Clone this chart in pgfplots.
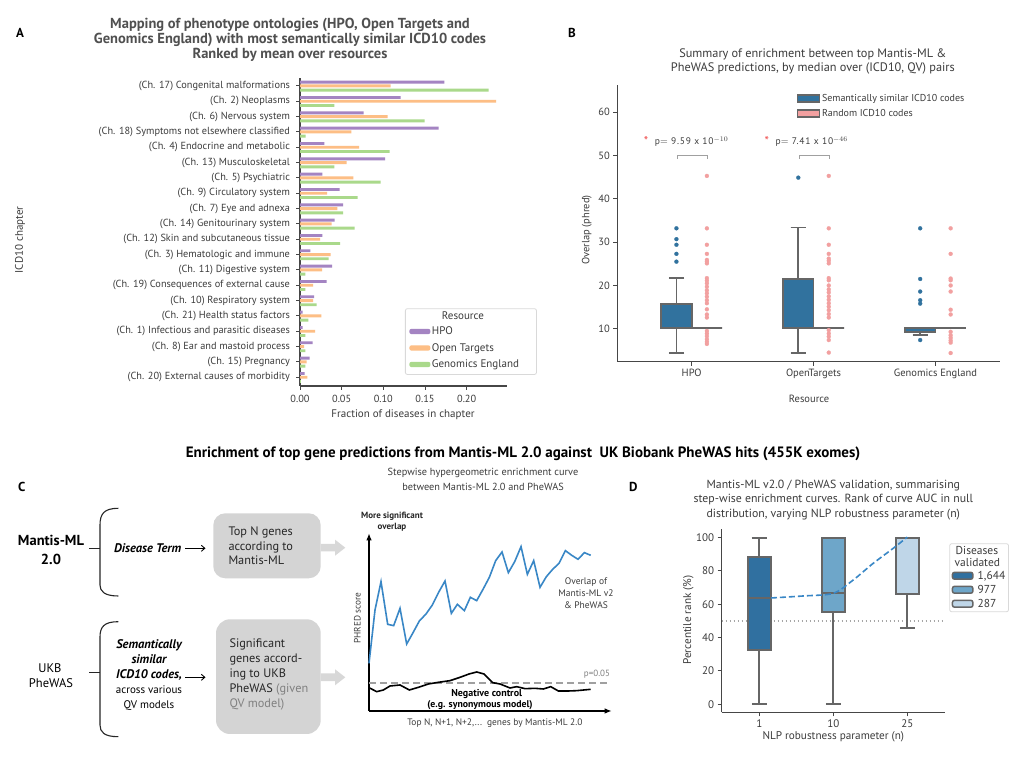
\documentclass[border=0pt]{standalone}
\usepackage{pgfplots}
\pgfplotsset{compat=1.18}
\usepgfplotslibrary{statistics}
\usetikzlibrary{arrows.meta}
\usepackage{fontspec}
\setmainfont{PT Sans}
\newcommand\fs[2]{\fontsize{#1bp}{#2bp}\selectfont}
\definecolor{tgray}{RGB}{60,60,60}
\definecolor{titlegray}{RGB}{80,80,80}
\definecolor{axgray}{RGB}{70,70,70}
\definecolor{cpurple}{RGB}{164,132,194}
\definecolor{corange}{RGB}{253,190,133}
\definecolor{cgreen}{RGB}{170,217,139}
\definecolor{bblue}{RGB}{49,114,158}
\definecolor{bpink}{RGB}{242,160,160}
\definecolor{boxedge}{RGB}{102,102,102}
\definecolor{dA}{RGB}{48,112,160}
\definecolor{dB}{RGB}{110,166,201}
\definecolor{dC}{RGB}{191,214,232}
\definecolor{lblue}{RGB}{57,135,198}
\definecolor{cbox}{RGB}{212,212,212}
\definecolor{carrow}{RGB}{216,216,216}
\definecolor{brgray}{RGB}{160,160,160}
\definecolor{pred}{RGB}{240,80,80}
\pgfplotsset{
  myaxis/.style={scale only axis, anchor=south west, axis lines=left,
    axis line style={-, draw=axgray, line width=1.1bp},
    tick align=outside, major tick length=4bp,
    tick style={draw=axgray, line width=1bp},
    /pgf/number format/assume math mode=true, clip=false},
  bbox/.style={forget plot, draw=boxedge, line width=1.7bp, mark=*, mark size=2bp},
}
\begin{document}
\begin{tikzpicture}[x=1bp,y=1bp]
\fill[white] (0,0) rectangle (1024,767);
\useasboundingbox (0,0) rectangle (1024,767);

% ---------------- Panel A ----------------
\begin{axis}[myaxis, at={(300bp,381bp)}, width=207bp, height=307.7bp,
  xmin=0, xmax=0.2484, ymin=-0.57, ymax=19.5,
  xtick={0,0.05,0.1,0.15,0.2}, scaled x ticks=false,
  xticklabel style={/pgf/number format/fixed, /pgf/number format/fixed zerofill, /pgf/number format/precision=2, yshift=-2bp},
  yticklabel style={xshift=-2.5bp},
  ytick={0,...,19},
  yticklabels={(Ch. 20) External causes of morbidity, (Ch. 15) Pregnancy, (Ch. 8) Ear and mastoid process, (Ch. 1) Infectious and parasitic diseases, (Ch. 21) Health status factors, (Ch. 10) Respiratory system, (Ch. 19) Consequences of external cause, (Ch. 11) Digestive system, (Ch. 3) Hematologic and immune, (Ch. 12) Skin and subcutaneous tissue, (Ch. 14) Genitourinary system, (Ch. 7) Eye and adnexa, (Ch. 9) Circulatory system, (Ch. 5) Psychiatric, (Ch. 13) Musculoskeletal, (Ch. 4) Endocrine and metabolic, (Ch. 18) Symptoms not elsewhere classified, (Ch. 6) Nervous system, (Ch. 2) Neoplasms, (Ch. 17) Congenital malformations},
  ticklabel style={font=\fs{10.3}{12}, text=tgray},
  xlabel={Fraction of diseases in chapter}, ylabel={ICD10 chapter},
  xlabel style={at={(axis description cs:0.4976,-0.0942)}, anchor=center, font=\fs{11}{12}, text=tgray},
  ylabel style={at={(axis description cs:-1.3527,0.4745)}, anchor=center, font=\fs{11}{12}, text=tgray},
  legend image code/.code={\path[draw=none, fill=none] (0bp,-8bp) rectangle (21bp,8bp); \fill[#1] (0bp,-2.6bp) rectangle (21bp,2.6bp);},
  legend style={at={(axis description cs:0.5072,0.2525)}, anchor=north west, draw=gray!30, rounded corners=2bp, line width=0.8bp, font=\fs{11}{12}, text=tgray, inner xsep=4bp, inner ysep=2bp, row sep=0.5bp, nodes={inner sep=1.5bp}, cells={anchor=west}},
]
\addlegendimage{empty legend}\addlegendentry{\hspace*{10bp}Resource}
\addplot[xbar, bar width=2.9bp, bar shift=3.8bp, fill=cpurple, draw=none] coordinates {
(0.1732,19) (0.1208,18) (0.0764,17) (0.1664,16) (0.0292,15) (0.1020,14) (0.0268,13) (0.0476,12) (0.0516,11) (0.0416,10)
(0.0268,9) (0.0124,8) (0.0384,7) (0.0320,6) (0.0168,5) (0.0032,4) (0.0032,3) (0.0152,2) (0.0116,1) (0.0056,0)};
\addlegendentry{HPO}
\addplot[xbar, bar width=2.9bp, bar shift=0bp, fill=corange, draw=none] coordinates {
(0.1088,19) (0.2352,18) (0.1052,17) (0.0616,16) (0.0708,15) (0.0560,14) (0.0640,13) (0.0324,12) (0.0448,11) (0.0380,10)
(0.0240,9) (0.0368,8) (0.0264,7) (0.0156,6) (0.0156,5) (0.0256,4) (0.0180,3) (0.0048,2) (0.0080,1) (0.0088,0)};
\addlegendentry{Open Targets}
\addplot[xbar, bar width=2.9bp, bar shift=-4.2bp, fill=cgreen, draw=none] coordinates {
(0.2264,19) (0.0412,18) (0.1496,17) (0.0068,16) (0.1076,15) (0.0412,14) (0.0968,13) (0.0692,12) (0.0516,11) (0.0656,10)
(0.0480,9) (0.0344,8) (0.0064,7) (0.0064,6) (0.0200,5) (0.0100,4) (0.0064,3) (0.0064,2) (0.0064,1) (0.0010,0)};
\addlegendentry{Genomics England\hspace*{12bp}}
\end{axis}

% ---------------- Panel B ----------------
\begin{axis}[myaxis, at={(617.3bp,405.3bp)}, width=382.7bp, height=276.7bp,
  boxplot/draw direction=y,
  xmin=-0.61, xmax=2.53, ymin=2.4, ymax=66.3,
  xtick={0,1,2}, xticklabels={HPO,OpenTargets,Genomics England},
  ytick={10,20,30,40,50,60},
  ticklabel style={font=\fs{10.5}{12}, text=tgray},
  xlabel={Resource}, ylabel={Overlap (phred)},
  xlabel style={at={(axis description cs:0.501,-0.136)}, anchor=center, font=\fs{10.5}{12}, text=tgray},
  ylabel style={at={(axis description cs:-0.08,0.476)}, anchor=center, font=\fs{10.5}{12}, text=tgray},
  title={Summary of enrichment between top Mantis-ML \&\\PheWAS predictions, by median over (ICD10, QV) pairs},
  title style={at={(axis description cs:0.511,1.0625)}, anchor=center, align=center, font=\fs{12.3}{14}, text=tgray},
  legend image code/.code={\draw[#1] (0bp,-3.6bp) rectangle (21.6bp,3.6bp);},
  legend style={at={(axis description cs:0.4688,0.9747)}, anchor=north west, draw=none, fill=none, font=\fs{10}{11}, text=tgray, row sep=2.5bp, inner sep=0bp, nodes={inner sep=2bp}, cells={anchor=west}},
]
\addlegendimage{fill=bblue, draw=boxedge, line width=1.5bp}
\addlegendentry{Semantically similar ICD10 codes}
\addlegendimage{fill=bpink, draw=boxedge, line width=1.5bp}
\addlegendentry{Random ICD10 codes}
% HPO
\addplot[bbox, fill=bblue, mark options={fill=bblue, draw=bblue, line width=0.2bp},
  boxplot prepared={draw position=-0.125, lower whisker=4.4, lower quartile=10.2, median=10.2, upper quartile=15.8, upper whisker=21.7, box extend=0.25, whisker extend=0.125}]
  table[row sep=\\, y index=0] {y\\33.2\\30.7\\29.4\\27.3\\25.5\\};
\addplot[bbox, fill=bpink, mark options={fill=bpink, draw=bpink, line width=0.2bp},
  boxplot prepared={draw position=0.125, lower whisker=10.2, lower quartile=10.2, median=10.2, upper quartile=10.2, upper whisker=10.2, box extend=0.25, whisker extend=0.125}]
  table[row sep=\\, y index=0] {y\\45.3\\33.2\\29.4\\27.3\\25.9\\25.5\\25.1\\21.7\\21.1\\20.5\\19.7\\18.9\\18.2\\17.4\\16.6\\15.9\\14.5\\13.3\\12.6\\9.5\\8.9\\8.3\\7.6\\7.0\\6.5\\};
% OpenTargets
\addplot[bbox, fill=bblue, mark options={fill=bblue, draw=bblue, line width=0.2bp},
  boxplot prepared={draw position=0.875, lower whisker=4.4, lower quartile=10.2, median=10.2, upper quartile=21.5, upper whisker=33.4, box extend=0.25, whisker extend=0.125}]
  table[row sep=\\, y index=0] {y\\44.9\\};
\addplot[bbox, fill=bpink, mark options={fill=bpink, draw=bpink, line width=0.2bp},
  boxplot prepared={draw position=1.125, lower whisker=10.2, lower quartile=10.2, median=10.2, upper quartile=10.2, upper whisker=10.2, box extend=0.25, whisker extend=0.125}]
  table[row sep=\\, y index=0] {y\\45.3\\33.2\\29.4\\27.3\\26.2\\25.7\\25.1\\21.7\\21.2\\20.0\\19.1\\18.4\\17.5\\16.7\\15.9\\15.1\\14.3\\13.4\\12.6\\9.7\\8.9\\8.2\\7.4\\4.5\\};
% Genomics England
\addplot[bbox, fill=bblue, mark options={fill=bblue, draw=bblue, line width=0.2bp},
  boxplot prepared={draw position=1.875, lower whisker=8.5, lower quartile=9.2, median=10.2, upper quartile=10.2, upper whisker=10.2, box extend=0.25, whisker extend=0.125}]
  table[row sep=\\, y index=0] {y\\33.2\\21.5\\18.6\\16.6\\15.8\\7.4\\};
\addplot[bbox, fill=bpink, mark options={fill=bpink, draw=bpink, line width=0.2bp},
  boxplot prepared={draw position=2.125, lower whisker=10.2, lower quartile=10.2, median=10.2, upper quartile=10.2, upper whisker=10.2, box extend=0.25, whisker extend=0.125}]
  table[row sep=\\, y index=0] {y\\33.2\\27.3\\21.6\\21.2\\20.0\\18.6\\14.4\\13.3\\9.3\\8.5\\7.9\\7.3\\6.8\\4.4\\};
\draw[brgray, line width=1.1bp] (axis cs:-0.115,49.3) -- (axis cs:-0.115,50) -- (axis cs:0.131,50) -- (axis cs:0.131,49.3);
\draw[brgray, line width=1.1bp] (axis cs:0.885,49.3) -- (axis cs:0.885,50) -- (axis cs:1.131,50) -- (axis cs:1.131,49.3);
\node[text=pred, font=\fs{12.5}{10}] at (axis cs:-0.375,53.3) {*};
\node[anchor=west, text=tgray, font=\fs{9.5}{10}\addfontfeatures{LetterSpace=8}] at (axis cs:-0.33,53.2) {p$=$ 9.59 x 10$^{-10}$};
\node[text=pred, font=\fs{12.5}{10}] at (axis cs:0.616,53.3) {*};
\node[anchor=west, text=tgray, font=\fs{9.5}{10}\addfontfeatures{LetterSpace=8}] at (axis cs:0.66,53.2) {p$=$ 7.41 x 10$^{-46}$};
\end{axis}

% ---------------- Panel C plot ----------------
\begin{axis}[scale only axis, anchor=south west, at={(369bp,56bp)}, width=242.7bp, height=177.7bp,
  xmin=57, xmax=785, ymin=0, ymax=533, axis lines=left,
  axis line style={-{Latex[length=7bp,width=5.5bp]}, line width=1.2bp, black},
  xtick=\empty, ytick=\empty, clip=false,
  xlabel={Top N, N+1, N+2,...\ \ genes by Mantis-ML 2.0}, ylabel={PHRED score},
  xlabel style={at={(axis description cs:0.519,-0.0692)}, anchor=center, font=\fs{9.4}{10}, text=tgray},
  ylabel style={at={(axis description cs:-0.0482,0.5234)}, anchor=center, font=\fs{9.3}{10}, text=tgray},
  title={Stepwise hypergeometric enrichment curve\\between Mantis-ML 2.0 and PheWAS},
  title style={at={(axis description cs:0.4697,1.270)}, anchor=center, align=center, font=\fs{10.3}{14.5}, text=tgray},
]
\addplot[brgray, line width=1.8bp, dash pattern=on 7bp off 4bp] coordinates {(57,83) (770,83)};
\addplot[black, line width=1.6bp] coordinates {(57,70) (80,58) (100,63) (120,75) (150,78) (178,63) (205,71) (235,81) (265,86) (300,91) (330,101) (357,111) (380,117) (402,111) (428,85) (450,81) (480,69) (500,73) (525,67) (555,68) (580,66) (602,73) (625,60) (655,60) (680,61) (722,65)};
\addplot[lblue, line width=1.6bp] coordinates {(57,143) (75,303) (93,388) (113,260) (131,256) (150,308) (170,201) (188,233) (208,270) (228,291) (247,318) (267,358) (285,390) (304,293) (322,320) (343,301) (361,341) (380,331) (399,365) (418,401) (437,451) (456,477) (475,415) (494,448) (513,493) (532,410) (551,451) (570,371) (589,403) (608,425) (627,443) (646,481) (665,467) (684,455) (703,475) (722,467)};
\end{axis}

% ---------------- Panel D ----------------
\begin{axis}[myaxis, at={(721.7bp,54.7bp)}, width=223.3bp, height=183bp,
  boxplot/draw direction=y,
  xmin=-0.508, xmax=2.51, ymin=-4.8, ymax=105,
  xtick={0,1,2}, xticklabels={1,10,25}, ytick={0,20,40,60,80,100},
  ticklabel style={font=\fs{11}{12}, text=tgray},
  xlabel={NLP robustness parameter (n)}, ylabel={Percentile rank (\%)},
  xlabel style={at={(axis description cs:0.4998,-0.133)}, anchor=center, font=\fs{11.2}{12}, text=tgray},
  ylabel style={at={(axis description cs:-0.1496,0.504)}, anchor=center, font=\fs{11.2}{12}, text=tgray},
  title={Mantis-ML v2.0 / PheWAS validation, summarising\\step-wise enrichment curves. Rank of curve AUC in null\\distribution, varying NLP robustness parameter (n)},
  title style={at={(axis description cs:0.4998,1.127)}, anchor=center, align=center, font=\fs{11.8}{14.5}, text=tgray},
  legend image code/.code={\path[draw=none, fill=none] (0bp,-7bp) rectangle (24bp,7bp); \draw[#1] (0bp,-3.4bp) rectangle (20.4bp,3.4bp);},
  legend style={at={(axis description cs:1.0192,0.9235)}, anchor=north west, draw=gray!30, rounded corners=2bp, line width=0.8bp, fill=white, font=\fs{11.5}{12}, text=tgray, inner xsep=2bp, inner ysep=1bp, row sep=0bp, nodes={inner sep=1.2bp}, cells={anchor=west}},
]
\addlegendimage{empty legend}\addlegendentry{\hspace*{-22bp}Diseases}
\addlegendimage{empty legend}\addlegendentry{\hspace*{-23bp}validated}
\addlegendimage{fill=dA, draw=boxedge, line width=1.5bp}\addlegendentry{1,644}
\addlegendimage{fill=dB, draw=boxedge, line width=1.5bp}\addlegendentry{977}
\addlegendimage{fill=dC, draw=boxedge, line width=1.5bp}\addlegendentry{287}
\addplot[gray!70, line width=1.4bp, dash pattern=on 1.4bp off 2.6bp, forget plot] coordinates {(-0.508,50) (2.51,50)};
\addplot[forget plot, fill=dA, draw=boxedge, line width=1.8bp,
  boxplot prepared={draw position=0, lower whisker=0, lower quartile=32.4, median=63.8, upper quartile=88.2, upper whisker=100, box extend=0.315, whisker extend=0.2}] coordinates {};
\addplot[forget plot, fill=dB, draw=boxedge, line width=1.8bp,
  boxplot prepared={draw position=1, lower whisker=0, lower quartile=55.2, median=66.6, upper quartile=100, upper whisker=100, box extend=0.315, whisker extend=0.2}] coordinates {};
\addplot[forget plot, fill=dC, draw=boxedge, line width=1.8bp,
  boxplot prepared={draw position=2, lower whisker=45.6, lower quartile=66.2, median=100, upper quartile=100, upper whisker=100, box extend=0.315, whisker extend=0.2}] coordinates {};
\addplot[forget plot, lblue, line width=1.6bp, dash pattern=on 6bp off 3bp, smooth] coordinates {(0.158,63.8) (0.595,65.0) (1.0,66.6) (1.27,74.6) (1.54,84.6) (1.81,93.6) (2.0,100.3)};
\end{axis}

% ---------------- free text & diagram ----------------
\node[font=\fs{13}{13}\bfseries] at (20,734) {A};
\node[font=\fs{13}{13}\bfseries] at (572,734) {B};
\node[font=\fs{13}{13}\bfseries] at (21.7,280.3) {C};
\node[font=\fs{13}{13}\bfseries] at (633.3,280.3) {D};
\node[font=\fs{14.5}{15}\bfseries, text=titlegray, align=center] at (290,727) {Mapping of phenotype ontologies (HPO, Open Targets and\\Genomics England) with most semantically similar ICD10 codes\\Ranked by mean over resources};
\node[font=\fs{15}{15}\bfseries] at (523,313) {Enrichment of top gene predictions from Mantis-ML 2.0 against\ \ UK Biobank PheWAS hits (455K exomes)};

% C diagram
\node[font=\fs{14.5}{14}\bfseries] at (51,227) {Mantis-ML};
\node[font=\fs{14.5}{14}\bfseries] at (51,208) {2.0};
\node[font=\fs{12.5}{13}] at (50,98.7) {UKB};
\node[font=\fs{12.5}{13}] at (51,84.3) {PheWAS};
\draw[line width=1.1bp, black!85] (89,218.7) -- (100,218.7);
\draw[line width=1.1bp, black!85] (89,94.7) -- (100,94.7);
\draw[line width=1.1bp, black!85] (118.3,258.7) .. controls (104,258.7) and (100,253) .. (100,242) -- (100,182) .. controls (100,176) and (104,171) .. (118.3,171);
\draw[line width=1.1bp, black!85] (118.3,145.3) .. controls (104,145.3) and (100,140) .. (100,130) -- (100,42) .. controls (100,35) and (104,30.3) .. (118.3,30.3);
\node[font=\fs{12.5}{12}\bfseries\itshape] at (147.7,218.7) {Disease Term};
\draw[line width=0.9bp, -{Straight Barb[length=3.5bp,width=6bp]}] (185,218.7) -- (205.5,218.7);
\node[font=\fs{11}{15}, align=center] at (149,92) {{\fs{12.5}{15}\bfseries\itshape Semantically}\\{\fs{12.5}{15}\bfseries\itshape similar}\\{\fs{12.5}{15}\bfseries\itshape ICD10 codes,}\\across various\\QV models};
\draw[line width=0.9bp, -{Straight Barb[length=3.5bp,width=6bp]}] (185,89.7) -- (205.5,89.7);
\fill[cbox, rounded corners=12bp] (213.3,188.7) rectangle (320.7,253.7);
\node[font=\fs{12.3}{14.3}, align=left, anchor=west, inner sep=0pt, text=black!85] at (228.3,221) {Top N genes\\according to\\Mantis-ML};
\fill[cbox, rounded corners=14bp] (216,33) rectangle (320.7,147.7);
\node[font=\fs{12.3}{15}, align=left, anchor=west, inner sep=0pt, text=black!85] at (229.3,93) {Significant\\genes accord-\\ing to UKB\\PheWAS {\color{gray}(given}\\{\color{gray}QV model)}};
\fill[carrow] (320.7,215.5) -- (335,215.5) -- (335,211.3) -- (345.3,219.3) -- (335,227.3) -- (335,223.1) -- (320.7,223.1) -- cycle;
\fill[carrow] (320.7,85.9) -- (335,85.9) -- (335,81.7) -- (345.3,89.7) -- (335,97.7) -- (335,93.5) -- (320.7,93.5) -- cycle;

% C plot annotations
\node[font=\fs{9}{10}\bfseries, text=black!85] at (392,251) {More significant};
\node[font=\fs{9}{10}\bfseries, text=black!85] at (392,239.3) {overlap};
\node[font=\fs{9.5}{12}, align=center, text=tgray] at (586,174.3) {Overlap of\\Mantis-ML v2\\\& PheWAS};
\node[font=\fs{9}{10}, text=gray] at (597,93) {p=0.05};
\node[font=\fs{10}{10}\bfseries] at (486.7,73) {Negative control};
\node[font=\fs{9.8}{10}\bfseries] at (480,62) {(e.g. synonymous model)};
\end{tikzpicture}
\end{document}
